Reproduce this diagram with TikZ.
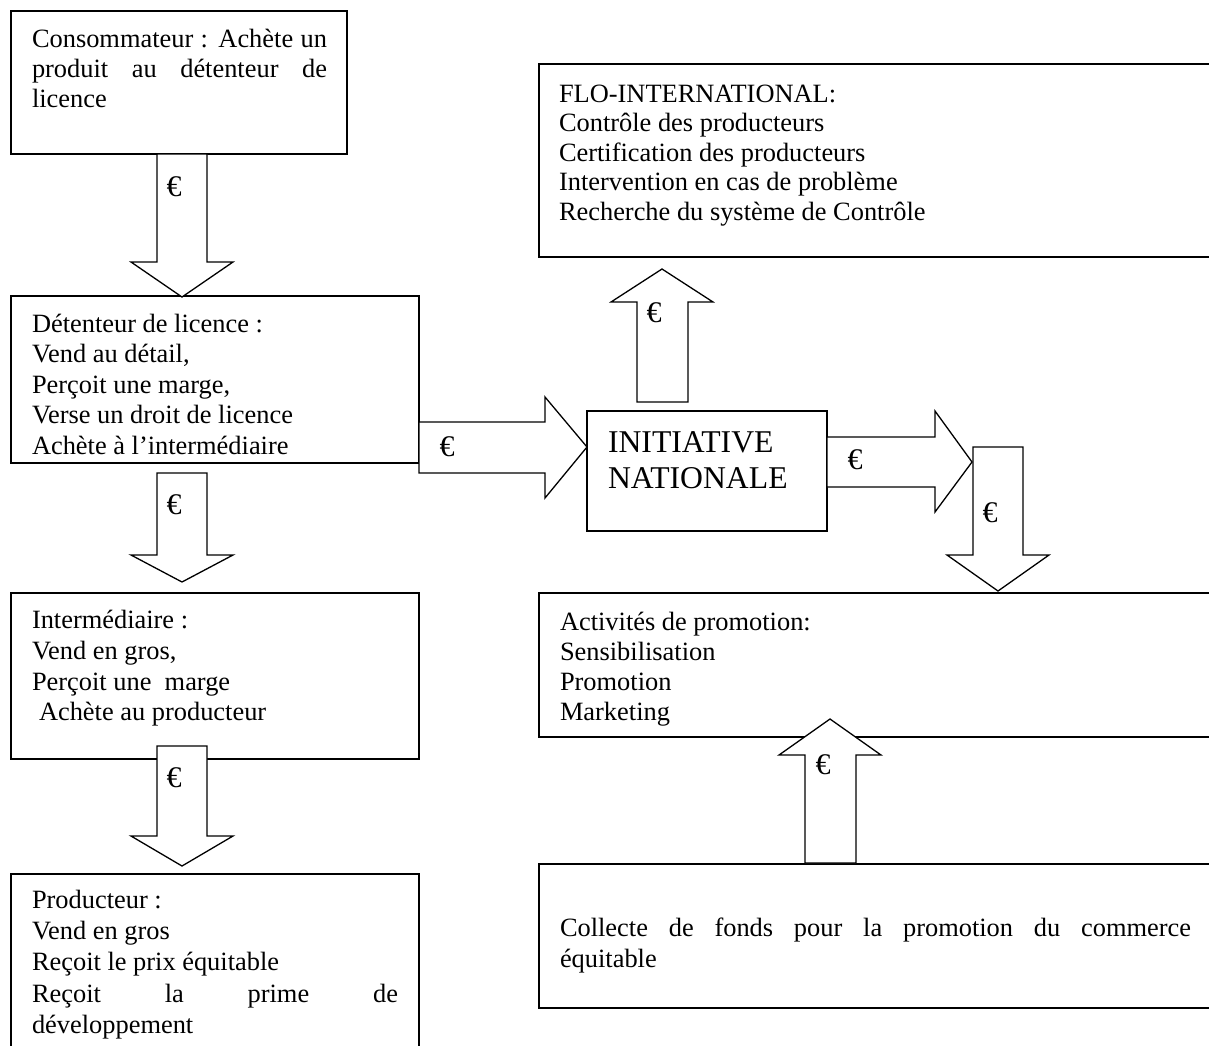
\documentclass[tikz,border=0pt]{standalone}
\usepackage{fontspec}
\setmainfont{Liberation Serif}
\begin{document}
\begin{tikzpicture}[x=1pt,y=-1pt,
  box/.style={draw, line width=1.3pt, rectangle, inner sep=0pt, outer sep=0pt, anchor=north west},
  blk/.style={draw, fill=white, line width=1.3pt, line join=miter},
  txt/.style={anchor=base west, inner sep=0pt, outer sep=0pt, font=\fontsize{26.4pt}{30.5pt}\selectfont},
  big/.style={anchor=base west, inner sep=0pt, outer sep=0pt, font=\fontsize{31.7pt}{36.5pt}\selectfont},
  eur/.style={inner sep=0pt, outer sep=0pt, font=\fontsize{30pt}{34pt}\selectfont}]
\fill[white] (0,0) rectangle (1209,1045);
\useasboundingbox (0,0) rectangle (1209,1045);
\clip (0,0) rectangle (1209,1045);

% boxes
\node[box, minimum width=336pt, minimum height=143pt] (cons) at (11,11) {};
\node[box, minimum width=408pt, minimum height=167pt] (det) at (11,296) {};
\node[box, minimum width=408pt, minimum height=166pt] (inter) at (11,593) {};
\node[box, minimum width=408pt, minimum height=200pt] (prod) at (11,874) {};
\node[box, minimum width=700pt, minimum height=193pt] (flo) at (539,64) {};
\node[box, minimum width=240pt, minimum height=120pt] (init) at (587,411) {};
\node[box, minimum width=700pt, minimum height=144pt] (act) at (539,593) {};
\node[box, minimum width=700pt, minimum height=144pt] (coll) at (539,864) {};

% block arrows
\draw[blk] (157,154) -- (157,262) -- (131,262) -- (182,297) -- (233,262) -- (207,262) -- (207,154) -- cycle;
\draw[blk] (157,473) -- (157,555) -- (131,555) -- (182,582) -- (233,555) -- (207,555) -- (207,473) -- cycle;
\draw[blk] (157,746) -- (157,836) -- (131,836) -- (182,866) -- (233,836) -- (207,836) -- (207,746) -- cycle;
\draw[blk] (419,422) -- (545,422) -- (545,397) -- (587,447) -- (545,498) -- (545,473) -- (419,473) -- cycle;
\draw[blk] (637,402) -- (637,302) -- (611,302) -- (662,269) -- (713,302) -- (688,302) -- (688,402) -- cycle;
\draw[blk] (973,447) -- (973,555) -- (947,555) -- (998,591) -- (1049,555) -- (1023,555) -- (1023,447) -- cycle;
\draw[blk] (827,437) -- (935,437) -- (935,411) -- (972,462) -- (935,512) -- (935,487) -- (827,487) -- cycle;
\draw[blk] (805,863) -- (805,755) -- (779,755) -- (830,719) -- (881,755) -- (856,755) -- (856,863) -- cycle;

% euro signs
\node[eur] (e1) at (174,187) {€};
\node[eur] (e2) at (174,505) {€};
\node[eur] (e3) at (174,778) {€};
\node[eur] (e4) at (447,447) {€};
\node[eur] (e5) at (654,313) {€};
\node[eur] (e6) at (855,460) {€};
\node[eur] (e7) at (990,513) {€};
\node[eur] (e8) at (823,765) {€};

% Consommateur
\node[txt] (cons0) at (32,47) {\makebox[295pt][s]{Consommateur : Achète un}};
\node[txt] (cons1) at (32,77) {\makebox[295pt][s]{produit au détenteur de}};
\node[txt] (cons2) at (32,107) {licence};

% Détenteur
\foreach \t [count=\i from 0] in {{Détenteur de licence :},{Vend au détail,},{Perçoit une marge,},{Verse un droit de licence},{Achète à l’intermédiaire}}
  \node[txt] (det\i) at (32,{332+30.5*\i}) {\t};

% Intermédiaire
\node[txt] (int0) at (32,628) {Intermédiaire :};
\node[txt] (int1) at (32,659) {Vend en gros,};
\node[txt] (int2) at (32,690) {Perçoit une\ \ marge};
\node[txt] (int3) at (39,720) {Achète au producteur};

% Producteur
\node[txt] (pro0) at (32,908) {Producteur :};
\node[txt] (pro1) at (32,939) {Vend en gros};
\node[txt] (pro2) at (32,970) {Reçoit le prix équitable};
\node[txt] (pro3) at (32,1002) {\makebox[366pt][s]{Reçoit la prime de}};
\node[txt] (pro4) at (32,1033) {développement};

% FLO
\foreach \t [count=\i from 0] in {{FLO-INTERNATIONAL:},{Contrôle des producteurs},{Certification des producteurs},{Intervention en cas de problème},{Recherche du système de Contrôle}}
  \node[txt] (flo\i) at (559,{102+29.5*\i}) {\t};

% Initiative
\node[big] (ini0) at (608,452) {INITIATIVE};
\node[big] (ini1) at (608,488) {NATIONALE};

% Activités
\foreach \t [count=\i from 0] in {{Activités de promotion:},{Sensibilisation},{Promotion},{Marketing}}
  \node[txt] (act\i) at (560,{630+30.3*\i}) {\t};

% Collecte
\node[txt] (col0) at (560,936) {\makebox[631pt][s]{Collecte de fonds pour la promotion du commerce}};
\node[txt] (col1) at (560,967) {équitable};
\end{tikzpicture}
\end{document}
